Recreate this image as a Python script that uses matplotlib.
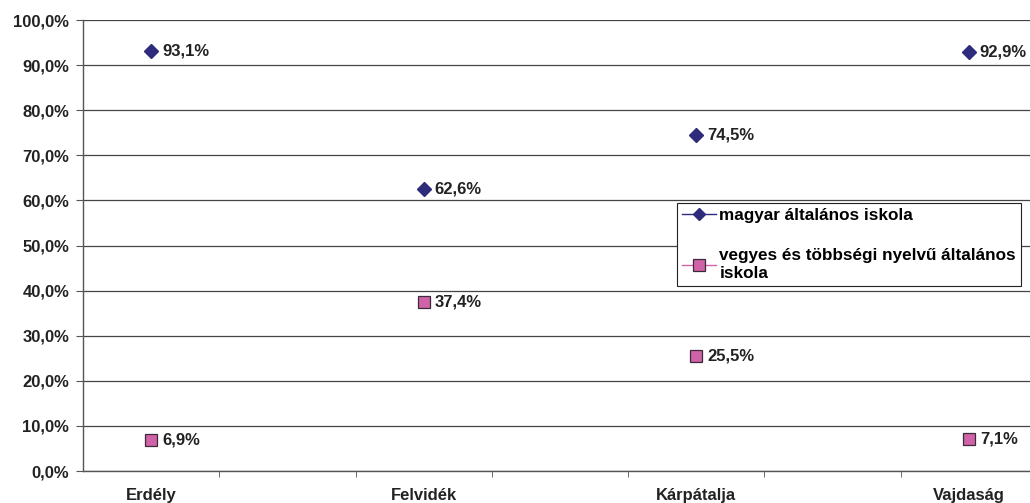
import matplotlib.pyplot as plt
from matplotlib.ticker import FuncFormatter, FixedLocator

# regions and shares (percent)
regions = ['Erdély', 'Felvidék', 'Kárpátalja', 'Vajdaság']
magyar = [93.1, 62.6, 74.5, 92.9]
vegyes = [6.9, 37.4, 25.5, 7.1]
series_names = ['magyar általános iskola', 'vegyes és többségi nyelvű általános\niskola']
yticks = [0, 10, 20, 30, 40, 50, 60, 70, 80, 90, 100]

plt.rcParams['font.family'] = ['Liberation Sans', 'DejaVu Sans']
plt.rcParams['font.weight'] = 'bold'
fs = 12

fig = plt.figure(figsize=(10.3, 5.03), dpi=100)
ax = fig.add_axes([0.0806, 0.0636, 0.9194, 0.8966])

xpos = [0.5 + 2 * i for i in range(len(regions))]
navy = '#2e2b7c'
pink = '#d062a8'

ax.plot(xpos, magyar, linestyle='none', marker='D', ms=7, color=navy, mec=navy)
ax.plot(xpos, vegyes, linestyle='none', marker='s', ms=9, color=pink, mec='#3a2a3a', mew=0.9)

for x, v in zip(xpos, magyar):
    ax.annotate(f'{v:.1f}%'.replace('.', ','), (x, v), xytext=(8, 0), textcoords='offset points',
                va='center', ha='left', fontsize=fs, fontweight='bold', color='#222222')
for x, v in zip(xpos, vegyes):
    ax.annotate(f'{v:.1f}%'.replace('.', ','), (x, v), xytext=(8, 0), textcoords='offset points',
                va='center', ha='left', fontsize=fs, fontweight='bold', color='#222222')

ax.set_xlim(0, 6.95)
ax.set_ylim(0, 100)
ax.set_yticks(yticks)
ax.yaxis.set_major_formatter(FuncFormatter(lambda v, p: f'{v:.1f}%'.replace('.', ',')))
ax.yaxis.grid(True, color='#444444', lw=0.9)
ax.set_axisbelow(True)

ax.set_xticks(xpos)
ax.set_xticklabels(regions)
ax.xaxis.set_minor_locator(FixedLocator([1, 2, 3, 4, 5, 6]))
ax.tick_params(axis='x', which='major', length=0, pad=12, labelsize=fs)
ax.tick_params(axis='x', which='minor', length=4, color='#555555', direction='out')
ax.tick_params(axis='y', length=5, color='#555555', labelsize=fs, pad=5)
for lab in ax.get_xticklabels() + ax.get_yticklabels():
    lab.set_fontweight('bold')
    lab.set_color('#222222')

for s in ['top', 'right']:
    ax.spines[s].set_visible(False)
for s in ['left', 'bottom']:
    ax.spines[s].set_color('#555555')
    ax.spines[s].set_linewidth(1)

h1, = ax.plot([], [], color=navy, lw=1, marker='D', ms=6, mec=navy)
h2, = ax.plot([], [], color=pink, lw=1, marker='s', ms=8, mfc=pink, mec='#3a2a3a', mew=0.9)
leg = fig.legend([h1, h2], series_names, loc='upper left', bbox_to_anchor=(0.657, 0.597),
                 prop={'size': 12.3, 'weight': 'bold'}, frameon=True, fancybox=False,
                 edgecolor='#222222', framealpha=1, handlelength=2.0, handletextpad=0.2,
                 labelspacing=1.5, borderpad=0.3, borderaxespad=0)
leg.get_frame().set_linewidth(0.8)

fig.savefig('out.png', dpi=100)
